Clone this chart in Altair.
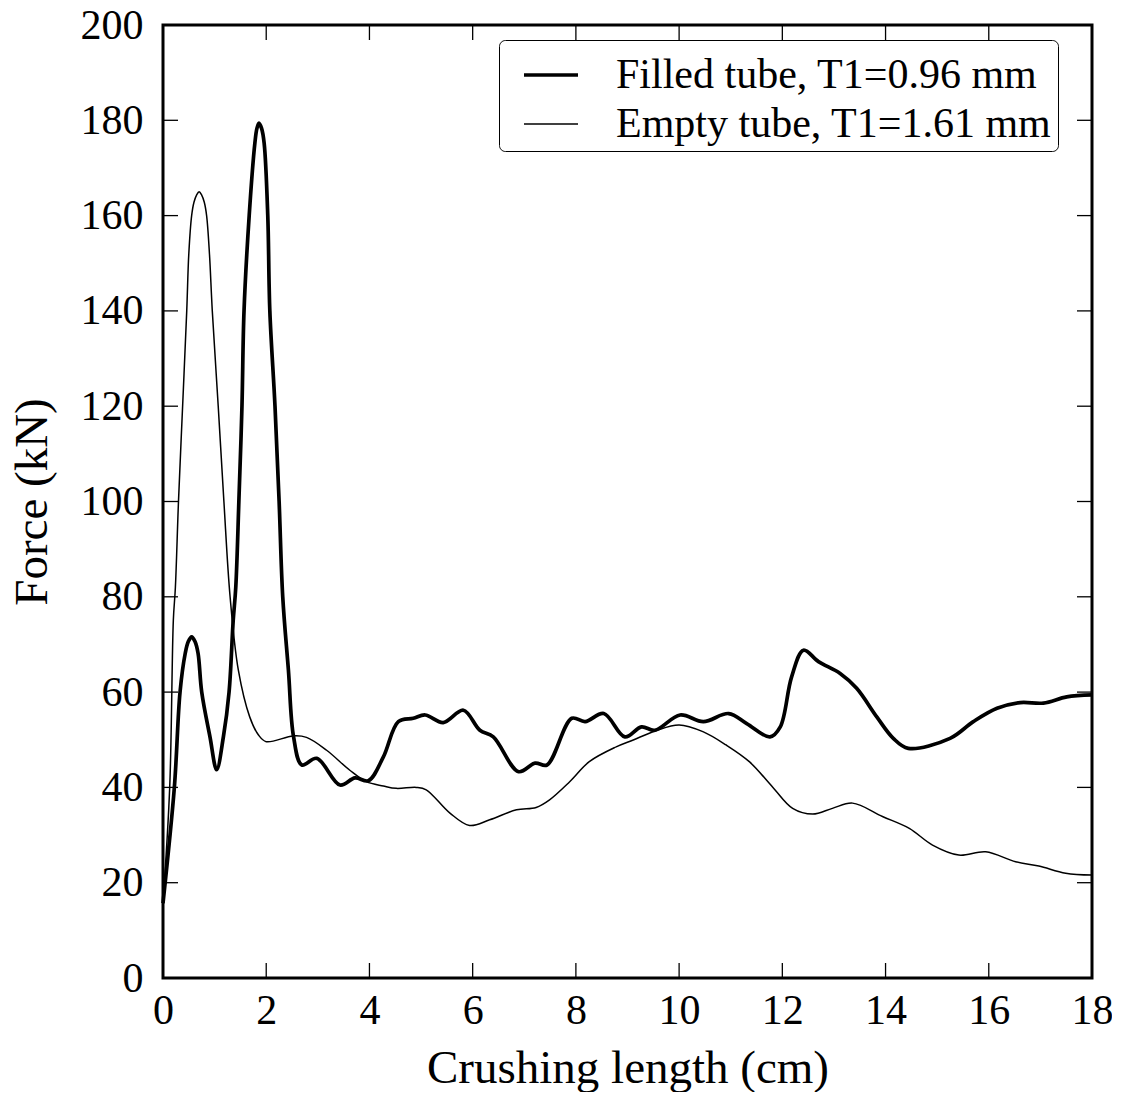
import altair as alt
import pandas as pd

# ---- data ----
filled_label = "Filled tube, T1=0.96 mm"
empty_label = "Empty tube, T1=1.61 mm"

filled_x = [0, 0.22, 0.33, 0.43, 0.49, 0.555, 0.62, 0.68, 0.75, 0.91,
            1.04, 1.17, 1.28, 1.36, 1.41, 1.47, 1.53, 1.57, 1.67, 1.78,
            1.82, 1.86, 1.91, 1.96, 2.03, 2.07, 2.17, 2.25, 2.32, 2.43,
            2.53, 2.69, 2.98, 3.43, 3.72, 3.98, 4.27, 4.56, 4.85, 5.08,
            5.43, 5.82, 6.14, 6.4, 6.89, 7.21, 7.44, 7.92, 8.18, 8.54,
            8.95, 9.27, 9.53, 10.02, 10.47, 10.96, 11.31, 11.76, 11.96, 12.18,
            12.41, 12.7, 13.12, 13.44, 13.83, 14.15, 14.44, 15.25, 15.7, 16.16,
            16.61, 17.06, 17.51, 18.0]
filled_y = [15.7, 40, 60, 68.1, 70.6, 71.6, 70.6, 68.1, 60, 50.6,
            43.7, 50.6, 60, 75, 82, 100, 120, 140, 160, 175.2,
            178.3, 179.4, 178.3, 175.2, 160, 140, 120, 100, 80, 64.6,
            50.6, 44.7, 46.1, 40.5, 42, 41.4, 46.4, 53.8, 54.5, 55.2,
            53.6, 56.2, 52, 50.6, 43.3, 45.1, 44.7, 54.5, 53.8, 55.5,
            50.6, 52.7, 52.0, 55.2, 53.8, 55.5, 53.4, 50.6, 52.7, 63.2,
            68.8, 66.4, 63.9, 60.8, 54.8, 50.3, 48.2, 50.3, 53.8, 56.6,
            57.8, 57.7, 59.0, 59.4]

empty_x = [0, 0.13, 0.2, 0.24, 0.3, 0.38, 0.46, 0.5, 0.555, 0.6,
           0.65, 0.7, 0.75, 0.8, 0.845, 0.9, 0.955, 1.07, 1.18, 1.3,
           1.46, 1.68, 1.85, 2.0, 2.52, 2.78, 3.17, 3.62, 3.94, 4.27,
           4.52, 4.91, 5.1, 5.56, 5.94, 6.33, 6.85, 7.23, 7.49, 7.88,
           8.26, 8.78, 9.1, 9.55, 10.0, 10.46, 10.91, 11.36, 11.81, 12.2,
           12.59, 12.97, 13.36, 13.94, 14.46, 14.91, 15.42, 15.94, 16.52, 16.97,
           17.49, 18.0]
empty_y = [15.7, 40, 75, 82, 100, 120, 140, 152, 160, 162.8,
           164.3, 165, 164.3, 162.8, 160, 152, 140, 120, 100, 80,
           64.6, 54.8, 51, 49.6, 50.8, 50.5, 47.8, 43.6, 41.2, 40.3,
           39.8, 40.0, 39.5, 34.6, 32.0, 33.2, 35.3, 35.8, 37.4, 41.2,
           45.4, 48.5, 49.9, 51.9, 53.1, 51.7, 48.9, 45.4, 40.1, 35.6,
           34.4, 35.6, 36.7, 33.9, 31.4, 27.9, 25.8, 26.5, 24.4, 23.5,
           22.0, 21.6]

x_ticks = [0, 2, 4, 6, 8, 10, 12, 14, 16, 18]
y_ticks = [0, 20, 40, 60, 80, 100, 120, 140, 160, 180, 200]

# ---- tables ----
df = pd.concat([
    pd.DataFrame({"x": filled_x, "y": filled_y, "series": filled_label}),
    pd.DataFrame({"x": empty_x, "y": empty_y, "series": empty_label}),
], ignore_index=True)
xt = pd.DataFrame({"x": x_ticks})
yt = pd.DataFrame({"y": y_ticks})

W, H = 929, 953
FONT = "Liberation Serif"
TL = 15

xscale = alt.Scale(domain=[0, 18], nice=False, zero=False)
yscale = alt.Scale(domain=[0, 200], nice=False, zero=False)

XA = alt.Axis(values=x_ticks, ticks=False, domain=False, grid=False,
              labelFont=FONT, labelFontSize=42, labelColor="black",
              labelPadding=12, labelFlush=False, labelOverlap=False,
              title="Crushing length (cm)", titleFont=FONT,
              titleFontSize=47, titleFontWeight="normal",
              titleColor="black", titleY=104, titleBaseline="alphabetic")
YA = alt.Axis(values=y_ticks, ticks=False, domain=False, grid=False,
              labelFont=FONT, labelFontSize=42, labelColor="black",
              labelPadding=20, labelFlush=False, labelOverlap=False,
              title="Force (kN)", titleFont=FONT, titleFontSize=47,
              titleFontWeight="normal", titleColor="black",
              titleX=-131, titleY=H / 2, titleAngle=270,
              titleAlign="center", titleBaseline="middle")

lines = alt.Chart(df).mark_line(color="black", interpolate="catmull-rom").encode(
    x=alt.X("x:Q", scale=xscale, axis=XA, title="Crushing length (cm)"),
    y=alt.Y("y:Q", scale=yscale, axis=YA, title="Force (kN)"),
    strokeWidth=alt.StrokeWidth(
        "series:N",
        scale=alt.Scale(domain=[filled_label, empty_label], range=[3.7, 1.5]),
        legend=alt.Legend(title=None, orient="none", legendX=336, legendY=15,
                          symbolType="stroke", symbolSize=2916,
                          symbolStrokeColor="black", symbolOffset=17,
                          labelFont=FONT, labelFontSize=42, labelColor="black",
                          labelOffset=36, labelLimit=0, rowPadding=0,
                          padding=6, strokeColor="black", fillColor="white",
                          cornerRadius=6)),
    detail="series:N",
)

tick_style = dict(color="black", strokeWidth=1.3)
bottom_ticks = alt.Chart(xt).mark_rule(**tick_style).encode(
    x=alt.X("x:Q", scale=xscale, axis=XA, title="Crushing length (cm)"),
    y=alt.value(H), y2=alt.value(H - TL))
top_ticks = alt.Chart(xt).mark_rule(**tick_style).encode(
    x=alt.X("x:Q", scale=xscale, axis=XA, title="Crushing length (cm)"),
    y=alt.value(0), y2=alt.value(TL))
left_ticks = alt.Chart(yt).mark_rule(**tick_style).encode(
    y=alt.Y("y:Q", scale=yscale, axis=YA, title="Force (kN)"),
    x=alt.value(0), x2=alt.value(TL))
right_ticks = alt.Chart(yt).mark_rule(**tick_style).encode(
    y=alt.Y("y:Q", scale=yscale, axis=YA, title="Force (kN)"),
    x=alt.value(W - TL), x2=alt.value(W))

chart = alt.layer(lines, bottom_ticks, top_ticks, left_ticks, right_ticks).properties(
    width=W, height=H,
    padding={"left": 155, "top": 17, "right": 20, "bottom": 114},
    autosize=alt.AutoSizeParams(type="none"),
).configure(font=FONT).configure_view(stroke="black", strokeWidth=3)

chart.save("out.html", embed_options={"renderer": "svg", "actions": False})
